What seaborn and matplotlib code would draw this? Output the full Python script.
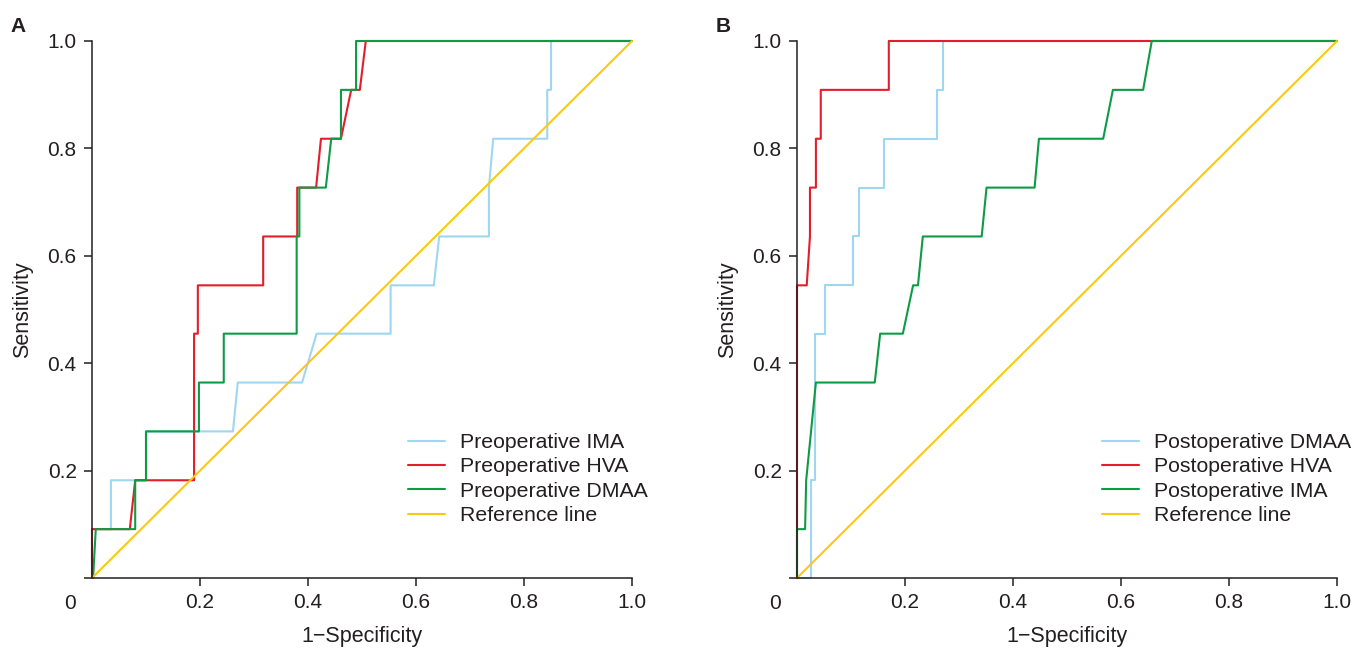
import numpy as np
import pandas as pd
import matplotlib
matplotlib.use('Agg')
import matplotlib.pyplot as plt
import seaborn as sns

# ROC curve points (x = 1-specificity, y = sensitivity)
pre_ima_fpr = [0, 0, 0.035, 0.035, 0.1, 0.1, 0.261, 0.27, 0.389, 0.416, 0.553, 0.553,
               0.633, 0.643, 0.735, 0.735, 0.743, 0.843, 0.843, 0.85, 0.85, 1.0]
pre_ima_tpr = [0, 0.091, 0.091, 0.182, 0.182, 0.273, 0.273, 0.364, 0.364, 0.455, 0.455, 0.545,
               0.545, 0.636, 0.636, 0.727, 0.818, 0.818, 0.909, 0.909, 1.0, 1.0]

pre_hva_fpr = [0, 0, 0.07, 0.08, 0.189, 0.189, 0.196, 0.196, 0.317, 0.317, 0.38, 0.38,
               0.415, 0.424, 0.461, 0.48, 0.496, 0.507, 1.0]
pre_hva_tpr = [0, 0.091, 0.091, 0.182, 0.182, 0.455, 0.455, 0.545, 0.545, 0.636, 0.636, 0.727,
               0.727, 0.818, 0.818, 0.909, 0.909, 1.0, 1.0]

pre_dmaa_fpr = [0.002, 0.007, 0.08, 0.08, 0.1, 0.1, 0.198, 0.198, 0.244, 0.244, 0.379, 0.379,
                0.384, 0.384, 0.433, 0.443, 0.461, 0.461, 0.489, 0.489, 1.0]
pre_dmaa_tpr = [0, 0.091, 0.091, 0.182, 0.182, 0.273, 0.273, 0.364, 0.364, 0.455, 0.455, 0.636,
                0.636, 0.727, 0.727, 0.818, 0.818, 0.909, 0.909, 1.0, 1.0]

post_dmaa_fpr = [0, 0.026, 0.026, 0.033, 0.033, 0.052, 0.052, 0.104, 0.104, 0.115, 0.115,
                 0.161, 0.161, 0.259, 0.259, 0.27, 0.27, 1.0]
post_dmaa_tpr = [0, 0, 0.182, 0.182, 0.455, 0.455, 0.545, 0.545, 0.636, 0.636, 0.727,
                 0.727, 0.818, 0.818, 0.909, 0.909, 1.0, 1.0]

post_hva_fpr = [0, 0, 0.018, 0.024, 0.024, 0.035, 0.035, 0.044, 0.044, 0.17, 0.17, 1.0]
post_hva_tpr = [0, 0.545, 0.545, 0.636, 0.727, 0.727, 0.818, 0.818, 0.909, 0.909, 1.0, 1.0]

post_ima_fpr = [0, 0, 0.015, 0.017, 0.035, 0.144, 0.154, 0.196, 0.215, 0.224, 0.233, 0.342,
                0.351, 0.44, 0.448, 0.567, 0.585, 0.641, 0.657, 1.0]
post_ima_tpr = [0, 0.091, 0.091, 0.182, 0.364, 0.364, 0.455, 0.455, 0.545, 0.545, 0.636, 0.636,
                0.727, 0.727, 0.818, 0.818, 0.909, 0.909, 1.0, 1.0]

ref_fpr = [0, 1]
ref_tpr = [0, 1]

x_ticks = [0.2, 0.4, 0.6, 0.8, 1.0]
x_labels = ['0.2', '0.4', '0.6', '0.8', '1.0']
y_ticks = [0, 0.2, 0.4, 0.6, 0.8, 1.0]
y_labels = ['', '0.2', '0.4', '0.6', '0.8', '1.0']

BLUE = '#9fd6f0'
RED = '#e31d2b'
GREEN = '#0e9b45'
YELLOW = '#fcc912'
INK = '#231f20'

sns.set_style('ticks')
plt.rcParams['font.family'] = ['Liberation Sans', 'DejaVu Sans']
plt.rcParams['text.color'] = INK
plt.rcParams['axes.labelcolor'] = INK
plt.rcParams['xtick.color'] = INK
plt.rcParams['ytick.color'] = INK
plt.rcParams['axes.edgecolor'] = INK

fig = plt.figure(figsize=(13.7, 6.48), dpi=100)
axA = fig.add_axes([92 / 1370, 70 / 648, 540 / 1370, 537 / 648])
axB = fig.add_axes([797 / 1370, 70 / 648, 540 / 1370, 537 / 648])

panels = [
    (axA, 'A', [(pre_ima_fpr, pre_ima_tpr, BLUE, 'Preoperative IMA'),
                (pre_hva_fpr, pre_hva_tpr, RED, 'Preoperative HVA'),
                (pre_dmaa_fpr, pre_dmaa_tpr, GREEN, 'Preoperative DMAA'),
                (ref_fpr, ref_tpr, YELLOW, 'Reference line')], 0.585),
    (axB, 'B', [(post_dmaa_fpr, post_dmaa_tpr, BLUE, 'Postoperative DMAA'),
                (post_hva_fpr, post_hva_tpr, RED, 'Postoperative HVA'),
                (post_ima_fpr, post_ima_tpr, GREEN, 'Postoperative IMA'),
                (ref_fpr, ref_tpr, YELLOW, 'Reference line')], 0.565),
]

for ax, letter, curves, leg_x in panels:
    for fpr, tpr, color, label in curves:
        df = pd.DataFrame({'fpr': fpr, 'tpr': tpr})
        sns.lineplot(data=df, x='fpr', y='tpr', sort=False, estimator=None,
                     color=color, linewidth=1.5, label=label, ax=ax, clip_on=False)
    ax.set_xlim(0, 1)
    ax.set_ylim(0, 1)
    ax.set_xticks(x_ticks)
    ax.set_xticklabels(x_labels)
    ax.set_yticks(y_ticks)
    ax.set_yticklabels(y_labels)
    ax.tick_params(labelsize=15, length=6, width=1.1, pad=5, direction='out')
    for s in ['left', 'bottom']:
        ax.spines[s].set_linewidth(1.1)
    sns.despine(ax=ax)
    ax.set_xlabel('1\u2212Specificity', fontsize=15.5)
    ax.set_ylabel('Sensitivity', fontsize=15.5)
    ax.xaxis.set_label_coords(0.5, -0.089)
    ax.yaxis.set_label_coords(-0.11, 0.5)
    ax.text(-0.041, -0.047, '0', transform=ax.transAxes, fontsize=15,
            ha='center', va='center')
    ax.legend(loc='upper left', bbox_to_anchor=(leg_x, 0.27), frameon=False,
              fontsize=15.3, handlelength=1.74, handletextpad=0.7,
              labelspacing=0.25, borderaxespad=0, borderpad=0)
    fig.text(ax.get_position().x0 - 74 / 1370, 1 - 26 / 648, letter, fontsize=15,
             fontweight='bold', ha='center', va='center')

fig.savefig('out.png', dpi=100)
